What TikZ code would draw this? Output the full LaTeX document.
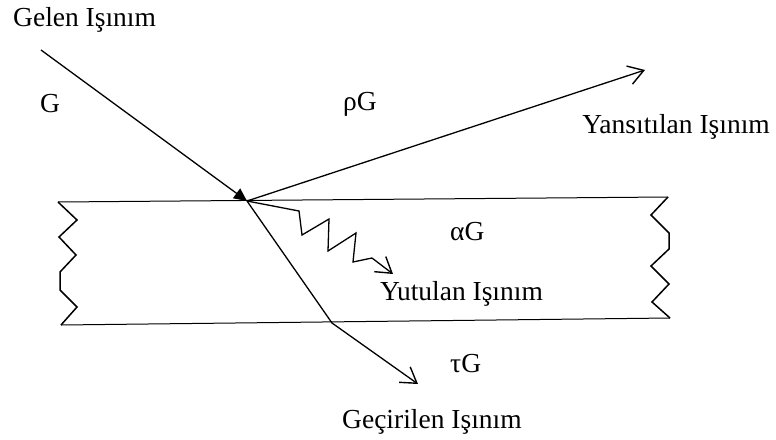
\documentclass[tikz,border=0pt]{standalone}
\usepackage{fontspec}
\setmainfont{Liberation Serif}
\usetikzlibrary{arrows.meta}
\begin{document}
\begin{tikzpicture}[x=1pt,y=-1pt,
  ray/.style={line width=1.3pt},
  slab/.style={line width=1pt},
  zig/.style={line width=1.5pt, line join=miter},
  openhead/.style={-{Straight Barb[length=15pt,width=19pt,line width=1.4pt]}},
  lbl/.style={font=\fontsize{27.5}{30}\selectfont, inner sep=0pt, anchor=base west}]
\useasboundingbox (0,0) rectangle (776,439);
% slab
\coordinate (tl) at (58,202);
\coordinate (tr) at (668,197);
\coordinate (bl) at (61,325);
\coordinate (br) at (670,318);
\draw[slab] (tl) -- (tr);
\draw[slab] (bl) -- (br);
\draw[zig] (tl) -- (77,220) -- (59,237) -- (76,255) -- (60,272) -- (60,290) -- (77,307) -- (bl);
\draw[zig] (tr) -- (651,215) -- (669,233) -- (669,249) -- (651,266) -- (669,284) -- (652,302) -- (br);
% rays
\coordinate (src) at (41,50);
\coordinate (hit) at (247,201);
\coordinate (refl) at (645,70);
\coordinate (kink) at (332,323);
\coordinate (trans) at (418,384);
\coordinate (abs) at (393,274);
\draw[ray,-{Triangle[length=13pt,width=12pt]}] (src) -- (hit);
\draw[ray,openhead] (hit) -- (refl);
\draw[ray,openhead] (hit) -- (kink) -- (trans);
\draw[ray,openhead] (hit) -- (299,211) -- (302,235) -- (329,219) -- (328,251) -- (356,233) -- (353,262) -- (372,258) -- (abs);
% labels
\node[lbl] (gelen) at (13,27) {Gelen Işınım};
\node[lbl] (g) at (40,112) {G};
\node[lbl] (rg) at (343,110) {ρG};
\node[lbl,anchor=base east] (yans) at (770,133) {Yansıtılan Işınım};
\node[lbl] (ag) at (450,240) {αG};
\node[lbl] (yut) at (380,300) {Yutulan Işınım};
\node[lbl] (tg) at (450,372) {τG};
\node[lbl] (gec) at (342,428) {Geçirilen Işınım};
\end{tikzpicture}
\end{document}
